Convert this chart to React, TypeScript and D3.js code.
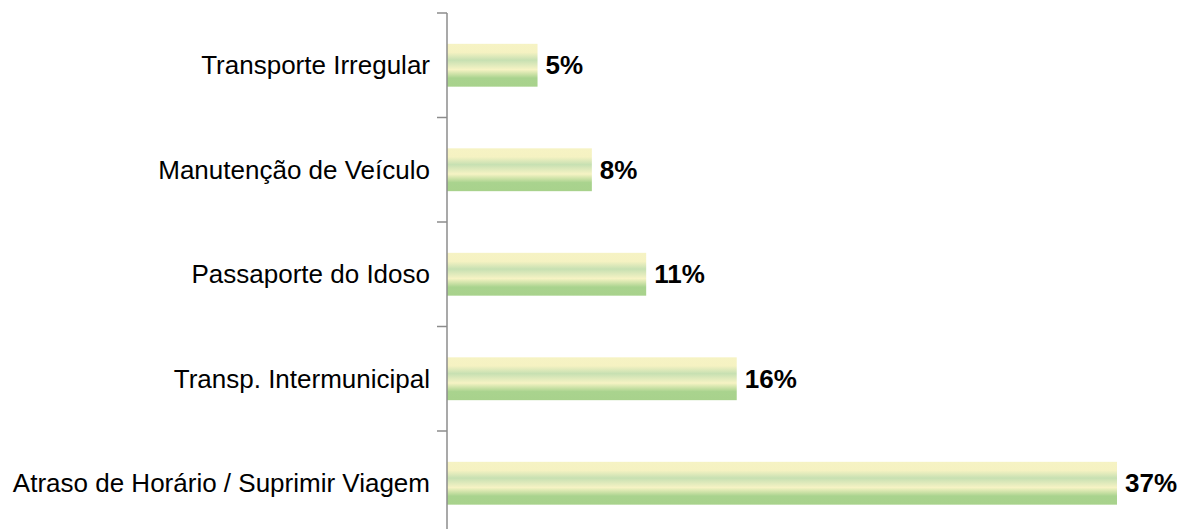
import * as d3 from 'd3';
import React from 'react';

const width = 1189;
const height = 529;
const margin = { top: 13, left: 447 };

const categories = [
  'Transporte Irregular',
  'Manutenção de Veículo',
  'Passaporte do Idoso',
  'Transp. Intermunicipal',
  'Atraso de Horário / Suprimir Viagem',
];
const values = [5, 8, 11, 16, 37];
const valueLabels = ['5%', '8%', '11%', '16%', '37%'];

const bandStep = 104.5;
const barShare = 0.41;

export default function App() {
  const yScale = d3
    .scaleBand<string>()
    .domain(categories)
    .range([margin.top, margin.top + bandStep * categories.length])
    .padding(0);

  const xScale = d3
    .scaleLinear()
    .domain([0, 37])
    .range([margin.left, 1117]);

  const barH = yScale.bandwidth() * barShare;
  const font = 'Arial, "Liberation Sans", sans-serif';

  // tick positions at band boundaries
  const ticks = categories.map(c => yScale(c) as number);
  ticks.push(margin.top + bandStep * categories.length);

  return (
    <svg
      width={width}
      height={height}
      style={{ position: 'absolute', left: 0, top: 0, background: '#fff' }}
    >
      <defs>
        <linearGradient id="barFill" x1="0" y1="0" x2="0" y2="1">
          <stop offset="0" stopColor="#f6f3c4" />
          <stop offset="0.2" stopColor="#f5f2c2" />
          <stop offset="0.38" stopColor="#c7e0b2" />
          <stop offset="0.6" stopColor="#f6f3c4" />
          <stop offset="0.8" stopColor="#a9d38e" />
          <stop offset="1" stopColor="#a8d28c" />
        </linearGradient>
      </defs>

      {categories.map((c, i) => {
        const y0 = (yScale(c) as number) + (yScale.bandwidth() - barH) / 2;
        const cy = (yScale(c) as number) + yScale.bandwidth() / 2;
        return (
          <g key={c}>
            <rect
              x={xScale(0)}
              y={y0}
              width={xScale(values[i]) - xScale(0)}
              height={barH}
              fill="url(#barFill)"
            />
            <text
              x={margin.left - 17}
              y={cy}
              dy="0.35em"
              textAnchor="end"
              fontFamily={font}
              fontSize={26}
              fill="#000"
            >
              {c}
            </text>
            <text
              x={xScale(values[i]) + 8}
              y={cy}
              dy="0.35em"
              fontFamily={font}
              fontSize={26}
              fontWeight="bold"
              fill="#000"
            >
              {valueLabels[i]}
            </text>
          </g>
        );
      })}

      <g stroke="#8c8c8c" strokeWidth={1.5}>
        <line
          x1={margin.left}
          x2={margin.left}
          y1={margin.top}
          y2={margin.top + bandStep * categories.length}
        />
        {ticks.map((t, i) => (
          <line key={i} x1={margin.left - 10} x2={margin.left} y1={t} y2={t} />
        ))}
      </g>
    </svg>
  );
}
